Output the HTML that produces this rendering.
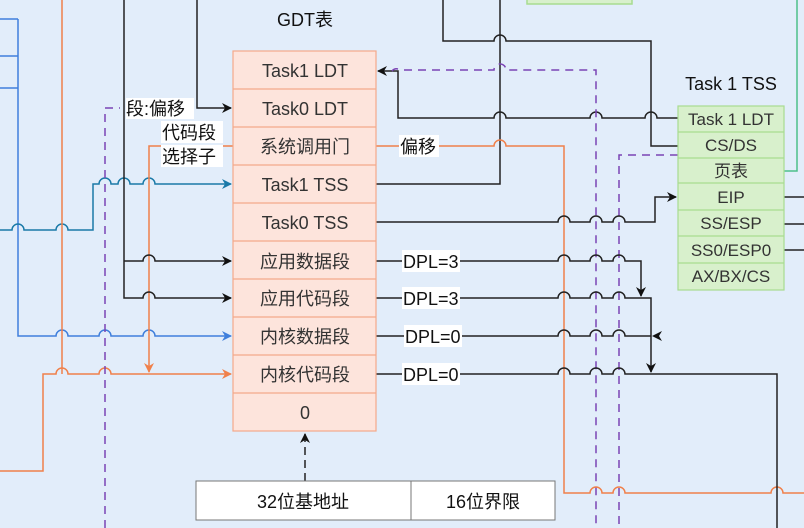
<!DOCTYPE html>
<html><head><meta charset="utf-8"><style>
html,body{margin:0;padding:0;background:#e2edfa;}
svg{display:block;}
text{font-family:"Liberation Sans","Noto Sans CJK SC",sans-serif;font-size:18px;fill:#333;}
</style></head><body>
<svg width="804" height="528" viewBox="0 0 804 528" xmlns="http://www.w3.org/2000/svg">
<rect width="804" height="528" fill="#e2edfa"/>
<defs>
<marker id="ab" markerWidth="10" markerHeight="10" refX="9" refY="5" orient="auto" markerUnits="userSpaceOnUse"><path d="M0,0 L10,5 L0,10 L3,5 Z" fill="#111"/></marker>
<marker id="ao" markerWidth="10" markerHeight="10" refX="9" refY="5" orient="auto" markerUnits="userSpaceOnUse"><path d="M0,0 L10,5 L0,10 L3,5 Z" fill="#f0804a"/></marker>
<marker id="abl" markerWidth="10" markerHeight="10" refX="9" refY="5" orient="auto" markerUnits="userSpaceOnUse"><path d="M0,0 L10,5 L0,10 L3,5 Z" fill="#3f7fdc"/></marker>
<marker id="at" markerWidth="10" markerHeight="10" refX="9" refY="5" orient="auto" markerUnits="userSpaceOnUse"><path d="M0,0 L10,5 L0,10 L3,5 Z" fill="#1a7aa8"/></marker>
</defs>
<g fill="none" stroke-width="1.5">
<rect x="527" y="-5" width="105" height="9" fill="#d8f0cc" stroke="#a8dc90"/>
<path d="M784 171 H797 V0" stroke="#4cc08a"/>
<path d="M0 19 H18 M0 56 H18 M0 88 H18" stroke="#3f7fdc"/>
<path d="M18 19 V336 H56 a6 6 0 0 1 12 0 H99 a6 6 0 0 1 12 0 H143 a6 6 0 0 1 12 0 H231" stroke="#3f7fdc" marker-end="url(#abl)"/>
<path d="M0 230 H12 a6 6 0 0 1 12 0 H56 a6 6 0 0 1 12 0 H93 V184 H99 a6 6 0 0 1 12 0 H118 a6 6 0 0 1 12 0 H143 a6 6 0 0 1 12 0 H231" stroke="#1a7aa8" marker-end="url(#at)"/>
<path d="M62 0 V374" stroke="#f0804a"/>
<path d="M0 471 H43 V374 H56 a6 6 0 0 1 12 0 H99 a6 6 0 0 1 12 0 H231" stroke="#f0804a" marker-end="url(#ao)"/>
<path d="M233 146 H149 V372" stroke="#f0804a" marker-end="url(#ao)"/>
<path d="M105 528 V108 H120" stroke="#7b44b4" stroke-dasharray="8 6"/>
<path d="M124 0 V298 H143 a6 6 0 0 1 12 0 H231" stroke="#222" marker-end="url(#ab)"/>
<path d="M124 261 H143 a6 6 0 0 1 12 0 H231" stroke="#222" marker-end="url(#ab)"/>
<path d="M197 0 V108 H231" stroke="#222" marker-end="url(#ab)"/>
<path d="M500 0 V184 H376" stroke="#222"/>
<path d="M443 0 V41 H494 a6 6 0 0 1 12 0 H651 V146 H678" stroke="#222"/>
<path d="M678 118 H657 a6 6 0 0 0 -12 0 H602 a6 6 0 0 0 -12 0 H506 a6 6 0 0 0 -12 0 H398 V71 H378" stroke="#222" marker-end="url(#ab)"/>
<path d="M392 71 a6 6 0 0 1 6 -2 M404 70 H494 a6 6 0 0 1 12 0 H596 V528" stroke="#7b44b4" stroke-dasharray="8 6"/>
<path d="M678 155 H619 V528" stroke="#7b44b4" stroke-dasharray="8 6"/>
<path d="M376 146 H494 a6 6 0 0 1 12 0 H564 V493 H590 a6 6 0 0 1 12 0 H613 a6 6 0 0 1 12 0 H771 a6 6 0 0 1 12 0 H804" stroke="#f0804a"/>
<path d="M376 222 H558 a6 6 0 0 1 12 0 H590 a6 6 0 0 1 12 0 H613 a6 6 0 0 1 12 0 H655 V197 H676" stroke="#222" marker-end="url(#ab)"/>
<path d="M376 261 H558 a6 6 0 0 1 12 0 H590 a6 6 0 0 1 12 0 H613 a6 6 0 0 1 12 0 H641 V296" stroke="#222" marker-end="url(#ab)"/>
<path d="M376 298 H558 a6 6 0 0 1 12 0 H590 a6 6 0 0 1 12 0 H613 a6 6 0 0 1 12 0 H651 V372" stroke="#222" marker-end="url(#ab)"/>
<path d="M376 336 H558 a6 6 0 0 1 12 0 H590 a6 6 0 0 1 12 0 H613 a6 6 0 0 1 12 0 H651" stroke="#222"/>
<path d="M662 331 L652 336 L662 341 L659 336 Z" fill="#111" stroke="none"/>
<path d="M376 374 H558 a6 6 0 0 1 12 0 H590 a6 6 0 0 1 12 0 H613 a6 6 0 0 1 12 0 H777 V528" stroke="#222"/>
<path d="M784 197 H804 M784 224 H804 M784 250 H804" stroke="#222"/>
<path d="M305 481 V434" stroke="#222" stroke-dasharray="8 5" marker-end="url(#ab)"/>
</g>
<g stroke="#f4a98a" stroke-width="1.2" fill="#fde4dc">
<rect x="233" y="51" width="143" height="380"/>
<path d="M233 89 H376 M233 127 H376 M233 165 H376 M233 203 H376 M233 241 H376 M233 279 H376 M233 317 H376 M233 355 H376 M233 393 H376" fill="none"/>
</g>
<g text-anchor="middle">
<text x="305" y="26" style="fill:#111">GDT表</text>
<text x="305" y="77">Task1 LDT</text>
<text x="305" y="115">Task0 LDT</text>
<text x="305" y="153">系统调用门</text>
<text x="305" y="191">Task1 TSS</text>
<text x="305" y="229">Task0 TSS</text>
<text x="305" y="268">应用数据段</text>
<text x="305" y="305">应用代码段</text>
<text x="305" y="343">内核数据段</text>
<text x="305" y="381">内核代码段</text>
<text x="305" y="419">0</text>
</g>
<g stroke="#a8dc90" stroke-width="1.2" fill="#d8f0cc">
<rect x="678" y="106" width="106" height="184"/>
<path d="M678 132 H784 M678 158 H784 M678 183 H784 M678 210 H784 M678 236 H784 M678 263 H784" fill="none"/>
</g>
<g text-anchor="middle">
<text x="731" y="90" style="fill:#111">Task 1 TSS</text>
<text x="731" y="125" style="font-size:17px">Task 1 LDT</text>
<text x="731" y="151" style="font-size:17px">CS/DS</text>
<text x="731" y="177" style="font-size:17px">页表</text>
<text x="731" y="203" style="font-size:17px">EIP</text>
<text x="731" y="229" style="font-size:17px">SS/ESP</text>
<text x="731" y="256" style="font-size:17px">SS0/ESP0</text>
<text x="731" y="282" style="font-size:17px">AX/BX/CS</text>
</g>
<g fill="#ffffff">
<rect x="126" y="98" width="68" height="21"/>
<rect x="161" y="121" width="62" height="22"/>
<rect x="161" y="145" width="62" height="22"/>
<rect x="399" y="135" width="40" height="22"/>
<rect x="402" y="250" width="58" height="22"/>
<rect x="402" y="287" width="58" height="22"/>
<rect x="404" y="325" width="58" height="22"/>
<rect x="402" y="363" width="58" height="22"/>
</g>
<text x="126" y="115" style="fill:#111">段:偏移</text>
<text x="162" y="139" style="fill:#111">代码段</text>
<text x="162" y="163" style="fill:#111">选择子</text>
<text x="400" y="153" style="fill:#111">偏移</text>
<text x="403" y="268" style="fill:#111">DPL=3</text>
<text x="403" y="305" style="fill:#111">DPL=3</text>
<text x="405" y="343" style="fill:#111">DPL=0</text>
<text x="403" y="381" style="fill:#111">DPL=0</text>
<rect x="196" y="481" width="359" height="39" fill="#fff" stroke="#777" stroke-width="1"/>
<path d="M411 481 V520" stroke="#777" stroke-width="1"/>
<text x="303" y="508" text-anchor="middle" style="fill:#111">32位基地址</text>
<text x="483" y="508" text-anchor="middle" style="fill:#111">16位界限</text>
</svg>
</body></html>
